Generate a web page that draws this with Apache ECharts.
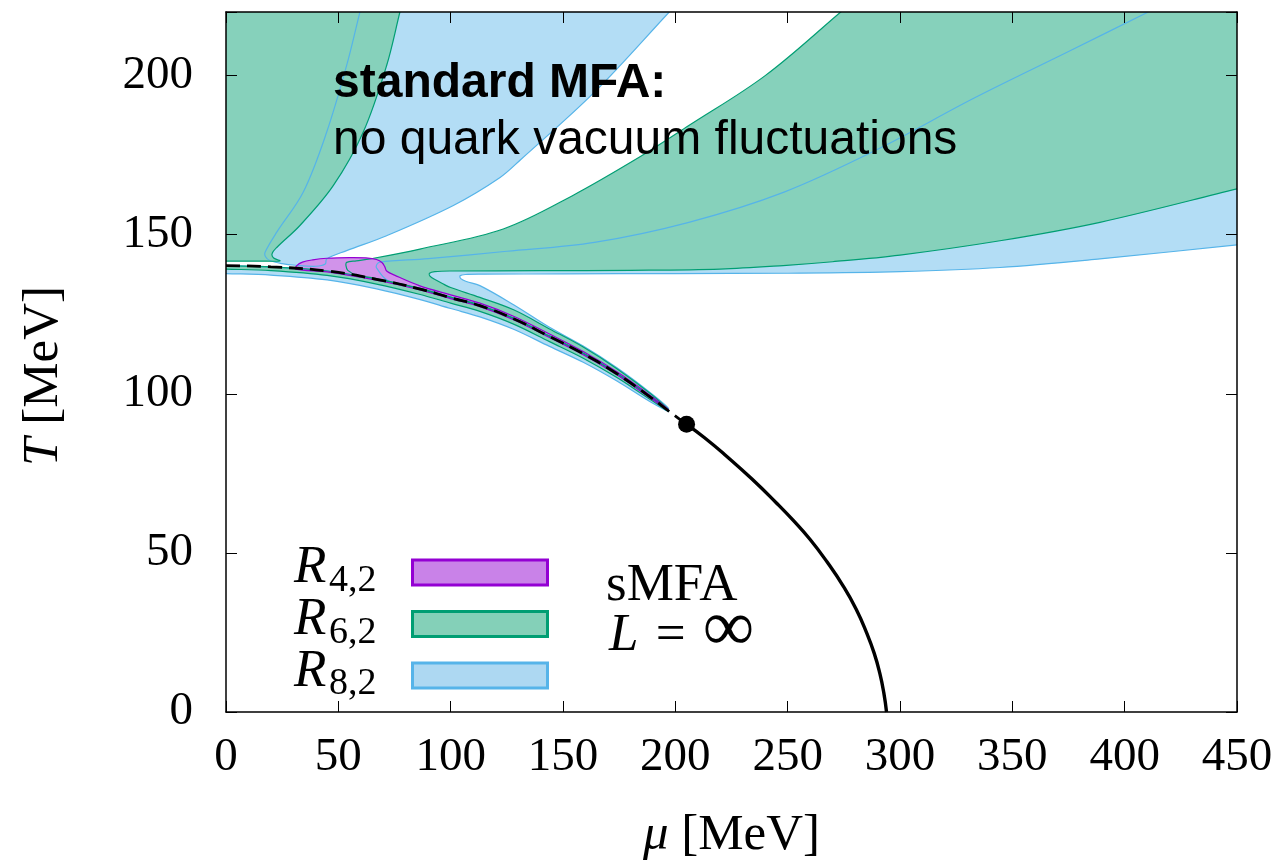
<!DOCTYPE html>
<html><head><meta charset="utf-8">
<script src="https://cdn.jsdelivr.net/npm/echarts@6/dist/echarts.min.js"></script>
<style>html,body{margin:0;padding:0;background:#fff}#chart{width:1279px;height:866px}</style>
</head><body><div id="chart"></div>
<script>
// ---- tick labels ----
const xTicks = [0, 50, 100, 150, 200, 250, 300, 350, 400, 450];
const yTicks = [0, 50, 100, 150, 200];

// ---- R8,2 (blue) regions, [mu, T] ----
const blueLeft = [[63.1,230],[59.6,220],[53.7,203.2],[44.8,182.2],[34.4,163.4],[22.6,150.8],[17.4,144.5],[17.6,143.1],[19.5,141.9],[25,140.9],[31,140.4],[40,140.1],[44.2,140.8],[44.8,142.4],[53.7,145.0],[71.5,149.7],[101.2,159.2],[122,168.0],[131,173.5],[164,194.8],[197.3,220],[210.5,230]];
const blueRight = [[67.0,139.6],[67.2,140.7],[68.5,141.4],[90,142.5],[125,144.8],[164,147.6],[206,153.9],[248.4,163.4],[290.5,177.0],[332.6,192.8],[374.8,207.5],[410.5,220],[439,230],[460,230],[460,147.5],[450,146.8],[389,142.4],[344.5,139.7],[300,138.4],[250,137.9],[200,137.8],[150,137.7],[115,137.6],[106.5,137.5],[104.2,137.1],[104.5,136.2],[107,135.3],[113,134.0],[128,128.0],[144,120.9],[159,115.0],[174,108.2],[189,100.3],[197,95.4],[189,99.1],[174,106.5],[159,112.8],[144,118.2],[128,123.8],[113,127.9],[100,130.4],[86,133.2],[72,135.6]];
const blueLow = [[-5,140.5],[0,140.3],[20,139.9],[45,138.6],[67,136.0],[86,133.0],[100,130.2],[113,127.7],[128,123.6],[144,118.0],[159,112.6],[174,106.3],[189,98.9],[197,94.5],[189,97.4],[174,104.0],[159,109.9],[144,114.9],[128,120.3],[113,124.2],[100,126.8],[86,129.7],[67,133.0],[45,135.8],[20,137.3],[0,137.8],[-5,137.9]];

// ---- R6,2 (green) regions ----
const greenLeft = [[-5,230],[80.9,230],[77.4,220],[71.5,203.2],[61.1,182.3],[47.8,165.5],[32.9,152.9],[22.6,146.0],[20.5,144.0],[21.2,142.7],[24,141.8],[15,141.7],[0,141.7],[-5,141.7]];
const greenRight = [[53.7,141.3],[58,141.8],[64.1,142.4],[86.3,145.5],[123.4,151.8],[154,162.2],[185,174.8],[206,184.3],[240,200],[273.6,220],[290,230],[460,230],[460,166.1],[450,164.4],[389,153.9],[344.5,148.1],[300,143.6],[270,141.5],[248,140.3],[220,139.2],[180,138.8],[140,138.7],[100,138.6],[93,138.4],[90.6,137.9],[90.8,137.0],[93,135.9],[97,134.4],[100,133.4],[113,130.3],[128,126.4],[144,120.4],[159,114.7],[174,107.9],[189,100.0],[197,95.0],[189,99.2],[174,106.5],[159,112.8],[144,118.2],[128,123.8],[113,127.9],[100,130.4],[86,133.2],[67,136.2],[58,137.4],[54.2,138.8],[53.4,140.3]];
const greenLow = [[-5,140.5],[0,140.3],[20,139.9],[45,138.6],[67,136.0],[86,133.0],[100,130.2],[113,127.7],[128,123.6],[144,118.0],[159,112.6],[174,106.3],[189,98.9],[197,94.5],[189,98.1],[174,105.1],[159,111.2],[144,116.4],[128,121.9],[113,125.9],[100,128.5],[86,131.3],[67,134.5],[45,137.2],[20,138.7],[0,139.2],[-5,139.3]];

// ---- R4,2 (purple) region ----
const purpleBand = [[31,139.2],[31.5,140.3],[34,141.4],[38.6,142.1],[45,142.6],[55,142.8],[62.3,142.7],[67,142.2],[69.5,141.2],[70.7,139.9],[71.5,138.6],[75,137.3],[86,134.0],[100,131.1],[113,128.5],[128,124.4],[144,118.8],[159,113.3],[174,106.9],[189,99.4],[197,94.9],[189,98.6],[174,106.0],[159,112.3],[144,117.7],[128,123.3],[113,127.4],[100,129.9],[86,132.7],[67,135.7],[45,138.3]];

// ---- phase boundary lines ----
const crossover = [[0,140.3],[20,139.9],[45,138.6],[67,136.0],[86,133.0],[100,130.2],[113,127.7],[128,123.6],[144,118.0],[159,112.6],[174,106.3],[189,98.9],[197,94.6],[205,90.4]];
const firstOrder = [[205,90.4],[213,86.2],[222.8,80.4],[234,73.3],[245,65.7],[252.5,60.2],[260,54.2],[267.5,47.2],[274.8,39.5],[280.5,32.3],[285.2,24.8],[288.5,18.5],[291,12.2],[292.8,6],[294,0]];
const cep = [[205,90.4]];

// ---- legend names / subscripts ----
const legendNames = ['R42', 'R62', 'R82'];
const legendSubs = ['4,2', '6,2', '8,2'];

const SERIF = '"Liberation Serif", "Times New Roman", serif';
const SANS = '"Liberation Sans", Arial, sans-serif';

const COL = {
  R42: {fill: '#D193EA', line: '#9400D3', legend: '#C982E8'},
  R62: {fill: '#86D1BB', line: '#009E73', legend: '#84D0B8'},
  R82: {fill: '#B3DDF5', line: '#56B4E9', legend: '#ADD8F2'}
};

function poly(name, pts, isFill, z) {
  const c = COL[name];
  return {
    type: 'custom', name: name, data: pts, clip: true, z: z, silent: true,
    encode: {x: 0, y: 1},
    renderItem: function (params, api) {
      if (params.dataIndex !== 0) return null;
      const points = pts.map(function (p) { return api.coord(p); });
      return {
        type: 'polygon',
        shape: {points: points, smooth: 0.35},
        style: isFill ? {fill: c.fill, stroke: null} : {fill: null, stroke: c.line, lineWidth: 1.2}
      };
    }
  };
}

const series = [];
[blueLeft, blueRight, blueLow].forEach(p => series.push(poly('R82', p, true, 2)));
[greenLeft, greenRight, greenLow].forEach(p => series.push(poly('R62', p, true, 3)));
series.push(poly('R42', purpleBand, true, 4));
[blueLeft, blueRight, blueLow].forEach(p => series.push(poly('R82', p, false, 5)));
[greenLeft, greenRight, greenLow].forEach(p => series.push(poly('R62', p, false, 6)));
series.push(poly('R42', purpleBand, false, 7));
series.push({type: 'line', name: 'crossover', data: crossover, smooth: true, symbol: 'none', z: 8, silent: true,
  lineStyle: {color: '#000', width: 2.8, type: [14, 7]}});
series.push({type: 'line', name: 'first order', data: firstOrder, smooth: true, symbol: 'none', z: 8, silent: true,
  lineStyle: {color: '#000', width: 3.4}});
series.push({type: 'scatter', name: 'CEP', data: cep, symbol: 'circle', symbolSize: 17, z: 9, silent: true,
  itemStyle: {color: '#000', opacity: 1}});

const axisCommon = {
  type: 'value', z: 10,
  axisLine: {show: true, onZero: false, lineStyle: {color: '#000', width: 1.5}},
  axisTick: {show: true, inside: true, length: 11, lineStyle: {color: '#000', width: 1}},
  splitLine: {show: false}
};

// legend label texts (R + subscript), positioned beside the legend swatches
const ROW = 51.7;
const legendText = [];
legendSubs.forEach(function (s, i) {
  legendText.push({type: 'text', left: 294, top: 542 + i * ROW, z: 20,
    style: {text: 'R', font: 'italic 53px ' + SERIF, fill: '#000'}});
  legendText.push({type: 'text', left: 329, top: 562 + i * ROW, z: 20,
    style: {text: s, font: '38px ' + SERIF, fill: '#000'}});
});

const option = {
  animation: false,
  backgroundColor: '#fff',
  grid: {left: 226, right: 42, top: 12, bottom: 154, containLabel: false},
  xAxis: [
    Object.assign({}, axisCommon, {
      min: 0, max: 450, interval: 50, position: 'bottom',
      axisLabel: {margin: 22, fontFamily: SERIF, fontSize: 47, color: '#000',
        formatter: v => xTicks.includes(v) ? String(v) : ''},
      name: '{i|μ} [MeV]', nameLocation: 'middle', nameGap: 98,
      nameTextStyle: {fontFamily: SERIF, fontSize: 51, color: '#000',
        rich: {i: {fontFamily: SERIF, fontStyle: 'italic', fontSize: 51, color: '#000'}}}
    }),
    Object.assign({}, axisCommon, {min: 0, max: 450, interval: 50, position: 'top', axisLabel: {show: false}})
  ],
  yAxis: [
    Object.assign({}, axisCommon, {
      min: 0, max: 220, interval: 50, position: 'left',
      axisLabel: {margin: 33, fontFamily: SERIF, fontSize: 47, color: '#000',
        formatter: v => yTicks.includes(v) ? String(v) : ''},
      name: '{i|T} [MeV]', nameLocation: 'middle', nameGap: 157,
      nameTextStyle: {fontFamily: SERIF, fontSize: 51, color: '#000', padding: [0, 28, 0, 0],
        rich: {i: {fontFamily: SERIF, fontStyle: 'italic', fontSize: 51, color: '#000'}}}
    }),
    Object.assign({}, axisCommon, {min: 0, max: 220, interval: 50, position: 'right', axisLabel: {show: false}})
  ],
  legend: {
    orient: 'vertical', left: 406, top: 553.5, align: 'left', selectedMode: false,
    itemWidth: 135, itemHeight: 25, itemGap: 23.5, padding: 5,
    data: legendNames.map(n => ({name: n, icon: 'rect',
      itemStyle: {color: COL[n].legend, borderColor: COL[n].line, borderWidth: 3}})),
    formatter: () => '',
    textStyle: {fontSize: 10, color: '#000'}
  },
  graphic: legendText.concat([
    {type: 'text', left: 333, top: 60, z: 20, style: {text: 'standard MFA:', font: 'bold 48px ' + SANS, fill: '#000'}},
    {type: 'text', left: 333, top: 117, z: 20, style: {text: 'no quark vacuum fluctuations', font: '48px ' + SANS, fill: '#000'}},
    {type: 'text', left: 606, top: 560, z: 20, style: {text: 'sMFA', font: '53px ' + SERIF, fill: '#000'}},
    {type: 'text', left: 609, top: 595, z: 20, style: {text: '{i|L}{e| = }{f|∞}', font: '53px ' + SERIF, fill: '#000',
      rich: {
        i: {font: 'italic 53px ' + SERIF, fill: '#000'},
        e: {font: '53px ' + SERIF, fill: '#000', padding: [0, 4, 0, 4]},
        f: {font: '72px ' + SERIF, fill: '#000', padding: [0, 0, 10, 0]}
      }}}
  ]),
  series: series
};

const chart = echarts.init(document.getElementById('chart'), null, {renderer: 'canvas'});
chart.setOption(option);
</script></body></html>
